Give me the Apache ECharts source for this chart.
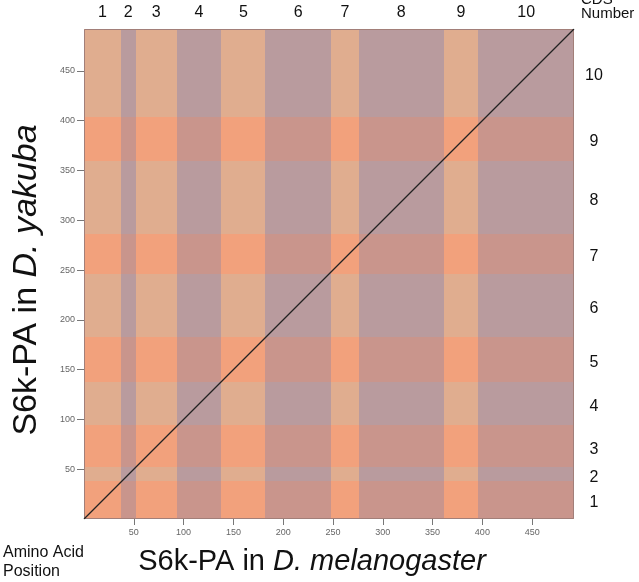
<!DOCTYPE html>
<html>
<head>
<meta charset="utf-8">
<script src="https://cdn.jsdelivr.net/npm/echarts@6/dist/echarts.min.js"></script>
<style>
  html, body { margin: 0; padding: 0; background: #fff; }
  #main { width: 639px; height: 582px; }
</style>
</head>
<body>
<div id="main"></div>
<script>
// CDS (exon) boundaries, amino acid positions
var xBounds = [0, 37, 52, 93, 138, 182, 248, 276, 361, 396, 492];   // D. melanogaster
var yBounds = [0, 38, 52, 94, 138, 183, 246, 286, 359, 404, 492];   // D. yakuba
var cdsNames = ['1', '2', '3', '4', '5', '6', '7', '8', '9', '10'];
// dot plot of the alignment (start/end of matching run)
var matchSegs = [[0, 0], [492, 492]];
var axisTicks = [50, 100, 150, 200, 250, 300, 350, 400, 450];

var AXMAX = 492;
var FONT = '"Liberation Sans", Arial, Helvetica, sans-serif';

// cell colours: [column kind][row kind], 0 = odd exon (orange), 1 = even exon (purple)
var cellColors = [
    ['#f2a17c', '#e0ad8f'],
    ['#c9958c', '#b99b9e']
];

var cells = [];
for (var i = 0; i < 10; i++) {
    for (var j = 0; j < 10; j++) {
        cells.push({
            value: [xBounds[i], xBounds[i + 1], yBounds[j], yBounds[j + 1]],
            itemStyle: { color: cellColors[i % 2][j % 2] }
        });
    }
}

var topLabels = cdsNames.map(function (n, i) {
    return [(xBounds[i] + xBounds[i + 1]) / 2, n];
});
var rightLabels = cdsNames.map(function (n, i) {
    return [(yBounds[i] + yBounds[i + 1]) / 2, n];
});

var chart = echarts.init(document.getElementById('main'));

var option = {
    animation: false,
    grid: { left: 84, top: 29, width: 490, height: 490 },
    xAxis: {
        type: 'value', min: 0, max: AXMAX,
        splitLine: { show: false },
        axisLine: { show: false },
        axisTick: { show: true, length: 6, lineStyle: { color: '#777' }, customValues: axisTicks },
        axisLabel: { fontSize: 9, color: '#666', margin: 9, fontFamily: FONT, customValues: axisTicks }
    },
    yAxis: {
        type: 'value', min: 0, max: AXMAX,
        splitLine: { show: false },
        axisLine: { show: false },
        axisTick: { show: true, length: 7, lineStyle: { color: '#777' }, customValues: axisTicks },
        axisLabel: { fontSize: 9, color: '#666', margin: 9, fontFamily: FONT, customValues: axisTicks }
    },
    graphic: [
        {
            type: 'text', left: 3, top: 543,
            style: { text: 'Amino Acid\nPosition', fontSize: 16, lineHeight: 19, fill: '#111', fontFamily: FONT }
        },
        {
            type: 'text', left: 581, top: -8,
            style: { text: 'CDS\nNumber', fontSize: 15, lineHeight: 14, fill: '#111', fontFamily: FONT }
        },
        {
            type: 'text', x: 312, y: 562,
            style: {
                text: '{a|S6k-PA in }{b|D. melanogaster}',
                align: 'center', verticalAlign: 'middle',
                rich: {
                    a: { fontSize: 29, fill: '#111', fontFamily: FONT },
                    b: { fontSize: 29, fill: '#111', fontFamily: FONT, fontStyle: 'italic' }
                }
            }
        },
        {
            type: 'text', x: 27, y: 280, rotation: Math.PI / 2,
            style: {
                text: '{a|S6k-PA in }{b|D. yakuba}',
                align: 'center', verticalAlign: 'middle',
                rich: {
                    a: { fontSize: 34, fill: '#111', fontFamily: FONT },
                    b: { fontSize: 34, fill: '#111', fontFamily: FONT, fontStyle: 'italic' }
                }
            }
        }
    ],
    series: [
        {
            type: 'custom',
            z: 1,
            data: cells,
            renderItem: function (params, api) {
                var p0 = api.coord([api.value(0), api.value(2)]);
                var p1 = api.coord([api.value(1), api.value(3)]);
                var x0 = Math.round(p0[0]), x1 = Math.round(p1[0]);
                var y0 = Math.round(p0[1]), y1 = Math.round(p1[1]);
                return {
                    type: 'rect',
                    shape: { x: x0, y: y1, width: x1 - x0, height: y0 - y1 },
                    style: { fill: api.visual('color') }
                };
            }
        },
        {
            type: 'custom',
            z: 3,
            data: [[0, AXMAX]],
            renderItem: function (params, api) {
                var p0 = api.coord([0, 0]);
                var p1 = api.coord([AXMAX, AXMAX]);
                return {
                    type: 'rect',
                    shape: { x: p0[0] + 0.5, y: p1[1] + 0.5, width: p1[0] - p0[0] - 1, height: p0[1] - p1[1] - 1 },
                    style: { fill: 'none', stroke: '#a27f79', lineWidth: 1 }
                };
            }
        },
        {
            type: 'line',
            z: 4,
            data: matchSegs,
            showSymbol: false,
            symbol: 'none',
            lineStyle: { color: '#222', width: 1.2 }
        },
        {
            type: 'custom',
            z: 5,
            clip: false,
            data: topLabels,
            renderItem: function (params, api) {
                var p = api.coord([api.value(0), AXMAX]);
                return {
                    type: 'text',
                    x: p[0], y: p[1] - 16,
                    style: { text: cdsNames[params.dataIndex], fontSize: 16, fill: '#111', fontFamily: FONT, align: 'center', verticalAlign: 'middle' }
                };
            }
        },
        {
            type: 'custom',
            z: 5,
            clip: false,
            data: rightLabels,
            renderItem: function (params, api) {
                var p = api.coord([AXMAX, api.value(0)]);
                return {
                    type: 'text',
                    x: p[0] + 20, y: p[1] + 3,
                    style: { text: cdsNames[params.dataIndex], fontSize: 16, fill: '#111', fontFamily: FONT, align: 'center', verticalAlign: 'middle' }
                };
            }
        }
    ]
};

chart.setOption(option);
</script>
</body>
</html>
